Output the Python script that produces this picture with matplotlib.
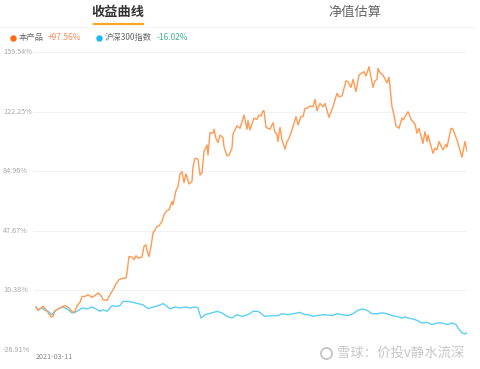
import numpy as np
import matplotlib
matplotlib.use("Agg")
import matplotlib.pyplot as plt

plt.rcParams['font.family'] = ['Noto Sans CJK SC', 'DejaVu Sans']

# cumulative return (%) of the product, trading-day index from 2021-03-11
prod_days = [0, 2, 7, 10, 12, 15, 17, 19, 23, 29, 33, 37, 39, 41, 44, 46, 49, 52, 56, 59,
             62, 65, 67, 71, 74, 77, 80, 83, 87, 90, 91, 93, 96, 98, 100, 102, 106, 108, 110, 111,
             113, 115, 117, 121, 123, 126, 128, 131, 133, 136, 137, 140, 142, 144, 146, 148, 150, 153, 156, 157,
             159, 162, 164, 166, 168, 171, 172, 174, 177, 178, 180, 182, 184, 187, 188, 191, 193, 196, 197, 201,
             204, 208, 211, 212, 214, 218, 221, 223, 225, 227, 228, 230, 234, 237, 239, 241, 242, 244, 246, 249,
             251, 253, 256, 260, 262, 265, 267, 269, 271, 274, 277, 279, 281, 284, 287, 289, 293, 297, 301, 303,
             306, 310, 312, 315, 317, 320, 323, 326, 328, 330, 333, 337, 339, 341, 342, 344, 347, 351, 353, 356,
             358, 360, 363, 366, 367, 370, 372, 375, 379, 381, 383, 387, 389, 391, 392, 397, 399, 401, 403, 407,
             410, 411, 415, 417, 421, 426, 429, 431]
prod_ret = [0.0, -2.1, 0.4, -1.7, -3.4, -6.2, -5.9, -2.3, -0.9, 1.0, -0.6, -3.4, -2.7, 0.8, 2.9, 6.6, 6.6, 7.7, 6.0, 7.1,
            8.8, 7.1, 4.6, 4.1, 7.7, 10.8, 14.4, 17.1, 18.1, 18.1, 21.3, 31.6, 31.2, 29.6, 32.1, 30.6, 31.2, 37.9, 38.9, 35.4,
            31.6, 37.9, 46.2, 50.4, 50.8, 53.5, 57.7, 60.3, 60.8, 66.0, 63.9, 72.8, 75.3, 83.3, 84.7, 77.8, 83.3, 77.0, 78.5, 87.8,
            93.1, 92.5, 82.6, 84.1, 97.2, 101.4, 95.1, 109.1, 108.7, 111.2, 105.6, 102.8, 107.6, 105.9, 100.3, 94.5, 95.1, 99.3, 108.3, 113.3,
            111.8, 120.1, 111.2, 116.6, 110.8, 118.1, 117.4, 120.1, 119.5, 122.8, 122.6, 112.4, 111.2, 115.3, 109.1, 108.3, 103.5, 112.4, 104.5, 98.7,
            103.5, 105.6, 110.8, 119.1, 113.9, 119.1, 119.1, 124.3, 124.3, 125.7, 125.3, 129.9, 122.8, 127.4, 125.3, 127.4, 118.7, 125.3, 133.7, 131.6,
            132.0, 141.5, 140.9, 137.4, 142.4, 134.7, 145.1, 146.5, 147.2, 144.5, 150.3, 137.4, 141.5, 142.4, 149.3, 146.5, 145.1, 140.3, 143.7, 125.3,
            120.1, 113.3, 111.8, 118.1, 117.0, 120.1, 122.2, 117.4, 114.5, 108.7, 111.8, 102.4, 109.7, 103.5, 107.6, 96.2, 99.3, 98.3, 103.5, 98.3,
            101.8, 100.0, 111.8, 111.2, 104.5, 93.7, 103.5, 97.56]

# CSI 300 cumulative return (%)
hs_days = [0, 2, 6, 9, 12, 16, 19, 22, 27, 31, 36, 39, 42, 46, 51, 56, 59, 64, 67, 71,
           76, 81, 84, 87, 92, 97, 102, 107, 112, 117, 122, 127, 131, 134, 139, 144, 149, 154, 159, 162,
           165, 169, 176, 181, 186, 191, 196, 201, 206, 212, 217, 222, 229, 236, 242, 246, 252, 257, 264, 269,
           272, 277, 282, 289, 296, 301, 306, 312, 317, 322, 326, 331, 336, 341, 346, 351, 356, 361, 366, 369,
           372, 377, 381, 386, 391, 396, 401, 406, 411, 416, 420, 422, 426, 429, 431]
hs_ret = [0.0, -1.7, -0.6, -2.1, -2.7, -4.8, -2.7, -1.2, 0.0, -1.2, -3.7, -3.4, -2.3, -0.6, -1.2, 0.0, -0.9, -2.7, -1.7, -2.7,
          0.8, 0.4, 1.0, 3.5, 3.5, 2.9, 2.1, 1.4, -1.0, 0.0, 0.8, 2.1, 0.4, -1.2, 0.0, -0.6, 0.0, -0.6, 0.0, -0.6,
          -6.9, -4.8, -3.7, -2.7, -3.7, -5.9, -6.9, -4.8, -5.9, -4.8, -2.7, -2.7, -5.9, -5.4, -5.4, -4.2, -4.8, -4.2, -3.4, -4.8,
          -4.8, -5.9, -5.2, -4.8, -5.4, -4.2, -4.8, -5.4, -4.2, -2.1, -1.2, -2.1, -4.2, -4.2, -3.7, -4.2, -5.4, -5.9, -6.9, -6.2,
          -6.9, -7.5, -8.4, -10.0, -9.6, -11.0, -10.0, -10.0, -11.0, -10.0, -11.0, -13.1, -16.2, -16.9, -16.02]

y_ticks = [-26.91, 10.38, 47.67, 84.96, 122.25, 159.54]
start_label = '2021-03-11'

fig = plt.figure(figsize=(4.8, 3.69), dpi=100)
ax = fig.add_axes([33 / 480, 19 / 369, 434 / 480, 298 / 369])

ax.plot(hs_days, hs_ret, color='#5ccff5', lw=1.0)
ax.plot(prod_days, prod_ret, color='#ff9a52', lw=1.0)

ax.set_ylim(y_ticks[0], y_ticks[-1])
ax.set_xlim(-3, 431)
ax.set_yticks(y_ticks)
ax.set_yticklabels([])
ax.grid(axis='y', color='#f2f2f2', lw=0.8)
ax.set_axisbelow(True)
for s in ax.spines.values():
    s.set_visible(False)
ax.tick_params(length=0)
ax.set_xticks([0])
ax.set_xticklabels([start_label], fontsize=5.2, color='#888888', ha='left')
ax.tick_params(axis='x', pad=2)

# y labels drawn at the left edge of the figure, centred on the grid lines
for t in y_ticks:
    ax.annotate(f'{t:.2f}%', xy=(0, t), xycoords=('figure fraction', 'data'),
                xytext=(3, 0), textcoords='offset pixels', va='center', ha='left',
                fontsize=5.2, color='#a8a8a8')

# tabs
fig.text(118 / 480, 1 - 12 / 369, '收益曲线', fontsize=9.5, fontweight='bold',
         color='#333333', ha='center', va='center')
fig.text(355 / 480, 1 - 12 / 369, '净值估算', fontsize=9.5, color='#666666',
         ha='center', va='center')
fig.add_artist(plt.Line2D([94 / 480, 143 / 480], [1 - 23.5 / 369] * 2, color='#f7a823', lw=1.6))
fig.add_artist(plt.Line2D([0, 475 / 480], [1 - 26.5 / 369] * 2, color='#f4f4f4', lw=0.6))

# legend row
ly = 1 - 37.5 / 369
fig.add_artist(plt.Line2D([13 / 480], [ly], marker='o', ms=3.6, color='#ff6a10', lw=0))
fig.text(19 / 480, ly, '本产品', fontsize=6, color='#666666', va='center')
fig.text(48 / 480, ly, '+97.56%', fontsize=6, color='#ff8a5c', va='center')
fig.add_artist(plt.Line2D([99 / 480], [ly], marker='o', ms=3.6, color='#18b9f6', lw=0))
fig.text(105 / 480, ly, '沪深300指数', fontsize=6, color='#666666', va='center')
fig.text(157 / 480, ly, '-16.02%', fontsize=6, color='#3fb592', va='center')

# watermark
fig.add_artist(plt.Line2D([326 / 480], [1 - 353 / 369], marker='o', ms=8, mfc='none',
                          mec='#c4c4c4', mew=1.3, lw=0))
fig.text(337 / 480, 1 - 353 / 369, '雪球：价投v静水流深', fontsize=9.6, color='#c4c4c4',
         va='center', ha='left', alpha=0.95)

fig.savefig('out.png', dpi=100)
